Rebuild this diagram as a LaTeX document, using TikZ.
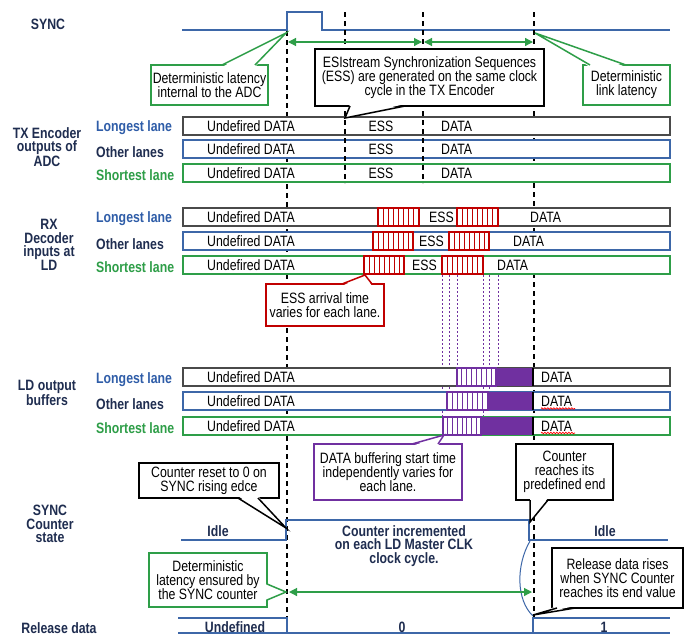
\documentclass[tikz,border=0pt]{standalone}
\usepackage{fontspec}
\setmainfont{Liberation Sans}[FakeStretch=0.82]
\usetikzlibrary{arrows.meta,decorations.pathmorphing}
\definecolor{navy}{HTML}{1F2D50}
\definecolor{lblue}{HTML}{2F5DA8}
\definecolor{sigblue}{HTML}{3D67A8}
\definecolor{lgreen}{HTML}{2E9E48}
\definecolor{dgray}{HTML}{4A4A4A}
\definecolor{cred}{HTML}{C00000}
\definecolor{cpurp}{HTML}{7030A0}
\newcommand{\hatchblk}[4]{%
  \draw[#1, line width=1.3pt, fill=white] (#2,{#4-9}) rectangle (#3,{#4+9});
  \foreach \k in {1,...,7} \draw[#1, line width=0.9pt] ({#2+\k*(#3-#2)/8},{#4-9}) -- ({#2+\k*(#3-#2)/8},{#4+9});
}
\newcommand{\ctail}[5]{%
  \fill[white] ([shift={(#5)}]#2) -- (#4) -- ([shift={(#5)}]#3) -- cycle;
  \draw[#1, line width=1.5pt, line join=miter] (#2) -- (#4) -- (#3);
}
\begin{document}
\begin{tikzpicture}[x=1pt,y=-1pt,
  every node/.style={font=\fontsize{15}{14}\selectfont, inner sep=0pt},
  lbl/.style={font=\fontsize{15}{13.5}\selectfont\bfseries, text=navy, align=center},
  lane/.style={font=\fontsize{15}{14}\selectfont\bfseries, anchor=west},
  rowbox/.style={draw, fill=white, line width=1.4pt, minimum width=487pt, minimum height=18pt},
  dtxt/.style={anchor=west, text=black},
  ctxt/.style={text=black},
  vdash/.style={black, line width=1.6pt, dash pattern=on 5pt off 4pt},
  pdot/.style={cpurp, line width=0.6pt, dash pattern=on 2pt off 2pt},
  callout/.style={draw, fill=white, line width=1.5pt, align=center, text=black},
  garrow/.style={lgreen, line width=1.2pt, {Triangle[length=8pt,width=8pt]}-{Triangle[length=8pt,width=8pt]}},
  sig/.style={sigblue, line width=1.3pt},
]
\fill[white] (0,0) rectangle (685,635);
\useasboundingbox (0,0) rectangle (685,635);

% ---------- left labels ----------
\node[lbl] (lsync) at (48,24) {SYNC};
\node[lbl] (ltx) at (47,147) {TX Encoder\\outputs of\\ADC};
\node[lbl] (lrx) at (49,245) {RX\\Decoder\\inputs at\\LD};
\node[lbl] (lld) at (47,393) {LD output\\buffers};
\node[lbl] (lcnt) at (50,524) {SYNC\\Counter\\state};
\node[lbl] (lrel) at (59,628) {Release data};

% ---------- SYNC waveform ----------
\draw[sig] (182,30) -- (287,30) -- (287,12) -- (322,12) -- (322,30) -- (670,30);

% ---------- long dashed lines (behind) ----------
\coordinate (d1a) at (287,31); \coordinate (d1b) at (287,617);
\coordinate (d4a) at (534,12); \coordinate (d4b) at (534,617);
\draw[vdash] (d1a) -- (d1b);
\draw[vdash] (d4a) -- (d4b);

% ---------- purple dotted lines ----------
\draw[pdot] (442,275) -- (442,417);
\draw[pdot] (449,275) -- (449,392);
\draw[pdot] (457,275) -- (457,368);
\draw[pdot] (483,275) -- (483,417);
\draw[pdot] (489,275) -- (489,392);
\draw[pdot] (498,275) -- (498,368);

% ---------- TX rows ----------
\node[rowbox, draw=dgray] (tx1) at (426.5,126) {};
\node[rowbox, draw=sigblue] (tx2) at (426.5,149) {};
\node[rowbox, draw=lgreen] (tx3) at (426.5,173) {};
\node[lane, text=lblue] (tl1) at (96,128) {Longest lane};
\node[lane, text=navy] (tl2) at (96,152) {Other lanes};
\node[lane, text=lgreen] (tl3) at (96,175) {Shortest lane};
\foreach \y/\n in {126/1,149/2,173/3}{
  \node[dtxt] (txu\n) at (207,\y) {Undefired DATA};
  \node[ctxt] (txe\n) at (381,\y) {ESS};
  \node[dtxt] (txd\n) at (441,\y) {DATA};
}
\coordinate (d2a) at (345,12); \coordinate (d2b) at (345,183);
\coordinate (d3a) at (423,12); \coordinate (d3b) at (423,183);
\draw[vdash] (d2a) -- (d2b);
\draw[vdash] (d3a) -- (d3b);

% ---------- RX rows ----------
\node[rowbox, draw=dgray] (rx1) at (426.5,217) {};
\node[rowbox, draw=sigblue] (rx2) at (426.5,241) {};
\node[rowbox, draw=lgreen] (rx3) at (426.5,265) {};
\node[lane, text=lblue] (rl1) at (96,219) {Longest lane};
\node[lane, text=navy] (rl2) at (96,244) {Other lanes};
\node[lane, text=lgreen] (rl3) at (96,267) {Shortest lane};
\foreach \y/\n in {217/1,241/2,265/3}{
  \node[dtxt] (rxu\n) at (207,\y) {Undefired DATA};
}
\hatchblk{cred}{378}{419}{217}
\hatchblk{cred}{457}{498}{217}
\hatchblk{cred}{373}{413}{241}
\hatchblk{cred}{449}{489}{241}
\hatchblk{cred}{364}{404}{265}
\hatchblk{cred}{442}{483}{265}
\node[dtxt] (rxe1) at (429,217) {ESS};
\node[dtxt] (rxd1) at (530,217) {DATA};
\node[dtxt] (rxe2) at (419,241) {ESS};
\node[dtxt] (rxd2) at (513,241) {DATA};
\node[dtxt] (rxe3) at (412,265) {ESS};
\node[dtxt] (rxd3) at (497,265) {DATA};

% ---------- LD rows ----------
\node[rowbox, draw=dgray] (ld1) at (426.5,377) {};
\node[rowbox, draw=sigblue] (ld2) at (426.5,401) {};
\node[rowbox, draw=lgreen] (ld3) at (426.5,426) {};
\node[lane, text=lblue] (ll1) at (96,380) {Longest lane};
\node[lane, text=navy] (ll2) at (96,404) {Other lanes};
\node[lane, text=lgreen] (ll3) at (96,428) {Shortest lane};
\foreach \y/\n in {377/1,401/2,426/3}{
  \node[dtxt] (ldu\n) at (207,\y) {Undefired DATA};
  \node[dtxt] (ldd\n) at (541,\y) {DATA};
}
\fill[cpurp] (496,368) rectangle (533,386);
\fill[cpurp] (488,392) rectangle (533,410);
\fill[cpurp] (481,417) rectangle (533,435);
\hatchblk{cpurp}{457}{496}{377}
\hatchblk{cpurp}{447}{488}{401}
\hatchblk{cpurp}{443}{481}{426}
\draw[black, line width=1.4pt] (533,368) -- (533,386);
\draw[black, line width=1.4pt] (533,392) -- (533,410);
\draw[black, line width=1.4pt] (533,417) -- (533,435);
\draw[red, line width=0.7pt, decorate, decoration={snake, amplitude=0.8pt, segment length=3pt}] (541,408.5) -- (575,408.5);
\draw[red, line width=0.7pt, decorate, decoration={snake, amplitude=0.8pt, segment length=3pt}] (541,433) -- (575,433);

% ---------- top callouts ----------
\node[callout, draw=lgreen, minimum width=117pt, minimum height=40pt] (c1) at (209.5,85) {Deterministic latency\\internal to the ADC};
\coordinate (c1t) at (286,33);
\ctail{lgreen}{222,65}{255,65}{c1t}{0,2}
\node[callout, draw=black, minimum width=229pt, minimum height=57pt] (c2) at (429.5,77.5) {ESIstream Synchronization Sequences\\(ESS) are generated on the same clock\\cycle in the TX Encoder};
\coordinate (c2t) at (345,118);
\ctail{black}{350,106}{405,106}{c2t}{0,-2}
\node[callout, draw=lgreen, minimum width=87pt, minimum height=40pt] (c3) at (626.5,85) {Deterministic\\link latency};
\coordinate (c3t) at (535,33);
\ctail{lgreen}{590,65}{626,65}{c3t}{0,2}

\coordinate (a1) at (288,42); \coordinate (a2) at (422,42);
\coordinate (a3) at (424,42); \coordinate (a4) at (533,42);
\draw[garrow] (a1) -- (a2);
\draw[garrow] (a3) -- (a4);

% ---------- middle callouts ----------
\node[callout, draw=cred, minimum width=118pt, minimum height=42pt] (c4) at (325,305) {ESS arrival time\\varies for each lane.};
\coordinate (c4t) at (365,275);
\ctail{cred}{342,284}{372,284}{c4t}{0,2}
\node[callout, draw=cpurp, minimum width=148pt, minimum height=56pt] (c5) at (388,472) {DATA buffering start time\\independently varies for\\each lane.};
\coordinate (c5t) at (444,435);
\ctail{cpurp}{412,444}{438,444}{c5t}{0,2}

% ---------- counter state ----------
\draw[sig] (181,540) -- (286,540) -- (286,520) -- (529,520) -- (529,540) -- (668,540);
\node[lbl] (idle1) at (218,531) {Idle};
\node[lbl] (cinc) at (404,546) {Counter incremented\\on each LD Master CLK\\clock cycle.};
\node[lbl] (idle2) at (605,531) {Idle};

\node[callout, draw=black, minimum width=140pt, minimum height=35pt] (c6) at (209,480.5) {Counter reset to 0 on\\SYNC rising edce};
\coordinate (c6t) at (286,528);
\ctail{black}{238,498}{258,498}{c6t}{0,-2}
\node[callout, draw=black, minimum width=97pt, minimum height=56pt] (c7) at (564.5,472) {Counter\\reaches its\\predefined end};
\coordinate (c7t) at (530,522);
\ctail{black}{530,500}{548,500}{c7t}{0,-2}

% ---------- release data ----------
\draw[sig] (178,618) -- (287,618) -- (287,633);
\draw[sig] (178,633) -- (670,633);
\draw[sig] (533,633) -- (533,618) -- (670,618);
\node[lbl] (rund) at (235,627) {Undefined};
\node[lbl] (r0) at (402,627) {0};
\node[lbl] (r1) at (604,627) {1};

\coordinate (cv1) at (530,541); \coordinate (cv2) at (533,616);
\draw[sigblue, line width=1pt] (cv1) .. controls (516,565) and (516,600) .. (cv2);

\node[callout, draw=lgreen, minimum width=118pt, minimum height=54pt] (c8) at (208,580) {Deterministic\\latency ensured by\\the SYNC counter};
\coordinate (c8t) at (286,592);
\ctail{lgreen}{267,584}{267,600}{c8t}{-2,0}
\coordinate (a5) at (289,592); \coordinate (a6) at (532,592);
\draw[garrow] (a5) -- (a6);

\node[callout, draw=black, minimum width=131pt, minimum height=60pt] (c9) at (617.5,578) {Release data rises\\when SYNC Counter\\reaches its end value};
\coordinate (c9t) at (533,615);
\ctail{black}{557,608}{575,608}{c9t}{0,-2}
\end{tikzpicture}
\end{document}
